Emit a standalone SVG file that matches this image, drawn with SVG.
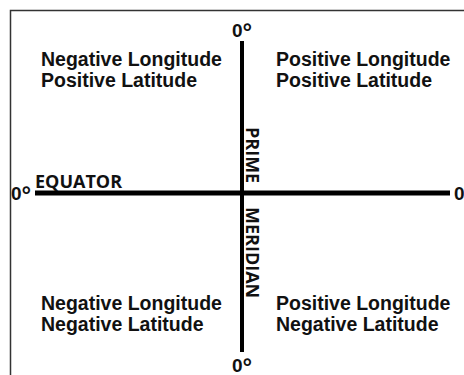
<svg xmlns="http://www.w3.org/2000/svg" width="464" height="375" viewBox="0 0 464 375">
<style>
.q{font-family:"Liberation Sans",Arial,sans-serif;font-weight:bold;font-size:19.5px;fill:#111}
.d{font-family:"Liberation Sans",Arial,sans-serif;font-weight:bold;font-size:19px;fill:#111}
.d tspan{font-size:24px}
.lab{font-family:"Open Sans","DejaVu Sans",sans-serif;font-weight:bold;font-size:18px;fill:#111}
.ax{stroke:#000;fill:none}
</style>
<rect width="464" height="375" fill="#fff"/>
<path d="M10.5,375 V10.5 H464" fill="none" stroke="#333" stroke-width="1.5"/>
<g id="connectors">
<line class="ax" x1="242" y1="41" x2="242" y2="352" stroke-width="4"/>
<line class="ax" x1="35" y1="193" x2="450" y2="193" stroke-width="5"/>
</g>
<g id="q-nw"><text class="q" x="41" y="66">Negative Longitude</text><text class="q" x="41" y="87">Positive Latitude</text></g>
<g id="q-ne"><text class="q" x="276" y="66">Positive Longitude</text><text class="q" x="276" y="87">Positive Latitude</text></g>
<g id="q-sw"><text class="q" x="41" y="310">Negative Longitude</text><text class="q" x="41" y="331">Negative Latitude</text></g>
<g id="q-se"><text class="q" x="276" y="310">Positive Longitude</text><text class="q" x="276" y="331">Negative Latitude</text></g>
<g id="deg-top"><text class="d" x="232" y="37">0<tspan dy="3">°</tspan></text></g>
<g id="deg-bottom"><text class="d" x="232" y="372">0<tspan dy="3">°</tspan></text></g>
<g id="deg-left"><text class="d" x="11" y="200">0<tspan dy="3">°</tspan></text></g>
<g id="deg-right"><text class="d" x="454" y="200">0<tspan dy="3">°</tspan></text></g>
<g id="equator"><text class="lab" x="35" y="188">EQUATOR</text></g>
<g id="prime"><text class="lab" transform="translate(246,127) rotate(90)">PRIME</text></g>
<g id="meridian"><text class="lab" transform="translate(246,207) rotate(90)">MERIDIAN</text></g>
</svg>
